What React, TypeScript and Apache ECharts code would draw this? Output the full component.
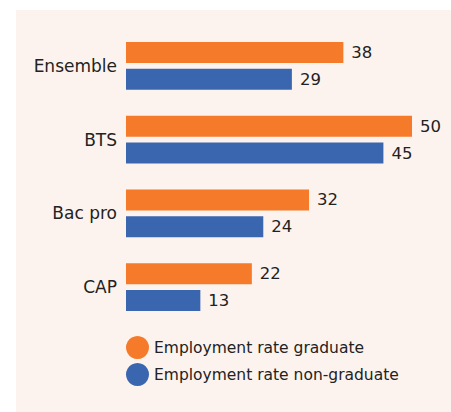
import React, { useEffect, useRef } from "react";
import * as echarts from "echarts";

const categories = ["Ensemble", "BTS", "Bac pro", "CAP"];
const graduate = [38, 50, 32, 22];
const nonGraduate = [29, 45, 24, 13];
const seriesNames = ["Employment rate graduate", "Employment rate non-graduate"];

const FONT = "DejaVu Sans";
const TEXT = "#222222";

export default function App() {
  const ref = useRef<HTMLDivElement>(null);
  useEffect(() => {
    if (!ref.current) return;
    const chart = echarts.init(ref.current, null, { renderer: "svg" });
    const labelStyle = {
      show: true,
      position: "right" as const,
      distance: 8,
      fontSize: 16.5,
      fontFamily: FONT,
      color: TEXT,
    };
    chart.setOption({
      animation: false,
      backgroundColor: "transparent",
      grid: { left: 126, top: 29, height: 295, width: 286, containLabel: false },
      xAxis: {
        type: "value",
        min: 0,
        max: 50,
        show: false,
      },
      yAxis: {
        type: "category",
        data: categories,
        inverse: true,
        axisLine: { show: false },
        axisTick: { show: false },
        axisLabel: { margin: 9, fontSize: 17, fontFamily: FONT, color: TEXT },
      },
      legend: {
        orient: "vertical",
        left: 121,
        top: 331,
        icon: "circle",
        itemWidth: 23,
        itemHeight: 23,
        itemGap: 4,
        textStyle: { fontSize: 15.5, fontFamily: FONT, color: TEXT },
        data: seriesNames,
      },
      series: [
        {
          name: seriesNames[0],
          type: "bar",
          data: graduate,
          barWidth: 21,
          barGap: "28%",
          itemStyle: { color: "#F57A29" },
          label: labelStyle,
        },
        {
          name: seriesNames[1],
          type: "bar",
          data: nonGraduate,
          barWidth: 21,
          barGap: "28%",
          itemStyle: { color: "#3A66B0" },
          label: labelStyle,
        },
      ],
    });
    return () => chart.dispose();
  }, []);
  return (
    <div style={{ position: "fixed", left: 0, top: 0, width: 451, height: 412, background: "#ffffff" }}>
      <div style={{ position: "absolute", left: 16, top: 10, width: 435, height: 402, background: "#fdf3ee" }} />
      <div ref={ref} style={{ position: "absolute", left: 0, top: 0, width: 451, height: 412 }} />
    </div>
  );
}
